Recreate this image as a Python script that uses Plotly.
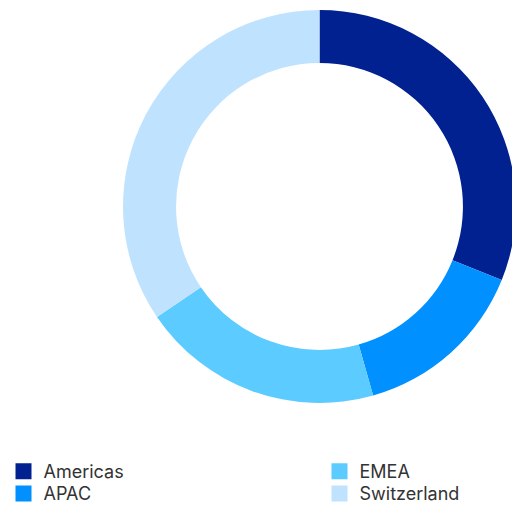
import plotly.graph_objects as go

labels = ["Americas", "APAC", "EMEA", "Switzerland"]
values = [31.1, 14.5, 19.9, 34.5]
colors = ["#00218F", "#0090FF", "#5CCBFF", "#BFE3FF"]
legend_ids = ["legend", "legend2", "legend3", "legend4"]

W, H = 516, 508
fig = go.Figure()
fig.add_trace(go.Pie(
    labels=labels, values=values, hole=0.73, sort=False,
    direction="clockwise", rotation=0,
    domain=dict(x=[123 / W, 1], y=[1 - 403 / H, 1 - 10 / H]),
    marker=dict(colors=colors, line=dict(width=0)),
    textinfo="none", hoverinfo="label+percent", showlegend=False,
))
for lab, col, lg in zip(labels, colors, legend_ids):
    fig.add_trace(go.Scatter(
        x=[None], y=[None], mode="markers", name=lab, legend=lg,
        marker=dict(symbol="square", size=16, color=col), showlegend=True,
    ))

legend_common = dict(
    yanchor="middle", xanchor="left",
    orientation="v", bgcolor="rgba(0,0,0,0)",
    font=dict(family="Inter, sans-serif", size=18, color="#333333"),
    itemsizing="trace",
)
col_x = [3.5, 3.5, 319.5, 319.5]
row_y = [471.5, 493.7, 471.5, 493.7]
legend_layout = {
    lg: dict(x=cx / W, y=1 - ry / H, **legend_common)
    for lg, cx, ry in zip(legend_ids, col_x, row_y)
}
fig.update_layout(
    width=W, height=H,
    margin=dict(l=0, r=0, t=0, b=0, autoexpand=False),
    paper_bgcolor="white", plot_bgcolor="white",
    xaxis=dict(visible=False), yaxis=dict(visible=False),
    **legend_layout,
)
fig.write_html("out.html")
